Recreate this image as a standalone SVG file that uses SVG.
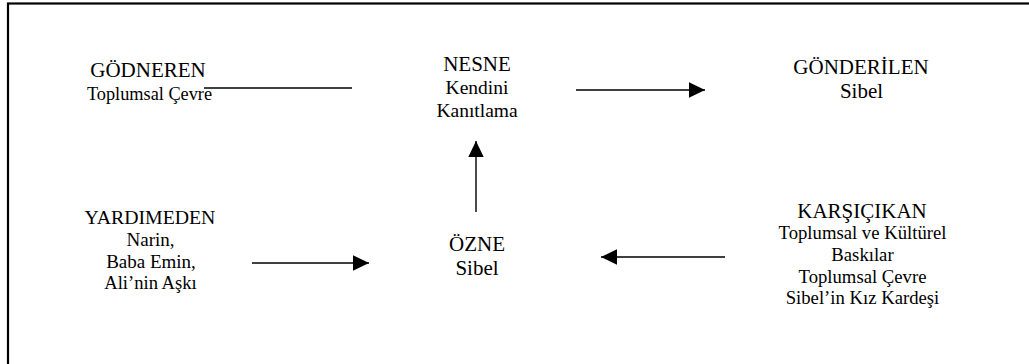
<svg xmlns="http://www.w3.org/2000/svg" width="1029" height="364" viewBox="0 0 1029 364">
  <style>
    .t { font-size: 21px; }
    .s { font-size: 19.5px; }
    .c { stroke: #000; stroke-width: 1.4; fill: none; }
  </style>
  <defs>
    <marker id="ah" markerUnits="userSpaceOnUse" markerWidth="17" markerHeight="16" refX="16" refY="8" orient="auto">
      <path d="M0,0.3 L16,8 L0,15.7 z" fill="#000"/>
    </marker>
  </defs>
  <rect x="0" y="0" width="1029" height="364" fill="#fff"/>
  <rect x="8" y="3.5" width="1030" height="380" fill="none" stroke="#000" stroke-width="2.2"/>

  <g font-family="'Liberation Serif', 'DejaVu Serif', serif" text-anchor="middle" fill="#000">
  <g id="gonderen">
    <text class="t" x="148" y="77">GÖDNEREN</text>
    <text class="s" x="149.5" y="100" style="font-size:18.3px">Toplumsal Çevre</text>
  </g>
  <g id="nesne">
    <text class="t" x="477" y="71">NESNE</text>
    <text class="s" x="477" y="94">Kendini</text>
    <text class="s" x="477" y="117">Kanıtlama</text>
  </g>
  <g id="gonderilen">
    <text class="t" x="861" y="74">GÖNDERİLEN</text>
    <text class="t" x="861.5" y="98">Sibel</text>
  </g>
  <g id="yardimeden">
    <text class="t" x="150" y="224" style="font-size:19.8px">YARDIMEDEN</text>
    <text class="s" x="150.5" y="246" style="font-size:19px">Narin,</text>
    <text class="s" x="151" y="268" style="font-size:19px">Baba Emin,</text>
    <text class="s" x="150.5" y="289" style="font-size:18.6px">Ali’nin Aşkı</text>
  </g>
  <g id="ozne">
    <text class="t" x="477" y="251">ÖZNE</text>
    <text class="t" x="477" y="275">Sibel</text>
  </g>
  <g id="karsicikan">
    <text class="t" x="862" y="218">KARŞIÇIKAN</text>
    <text class="s" x="862.5" y="239" style="font-size:18.7px">Toplumsal ve Kültürel</text>
    <text class="s" x="862.5" y="261" style="font-size:18.7px">Baskılar</text>
    <text class="s" x="862.5" y="283" style="font-size:18.7px">Toplumsal Çevre</text>
    <text class="s" x="862.5" y="304" style="font-size:18.7px">Sibel’in Kız Kardeşi</text>
  </g>
  </g>

  <g id="connectors">
    <line class="c" x1="204" y1="88" x2="352" y2="88"/>
    <line class="c" x1="576" y1="90" x2="705" y2="90" marker-end="url(#ah)"/>
    <line class="c" x1="476" y1="212" x2="476" y2="141" marker-end="url(#ah)"/>
    <line class="c" x1="252" y1="263" x2="369" y2="263" marker-end="url(#ah)"/>
    <line class="c" x1="725" y1="257" x2="601" y2="257" marker-end="url(#ah)"/>
  </g>
</svg>
